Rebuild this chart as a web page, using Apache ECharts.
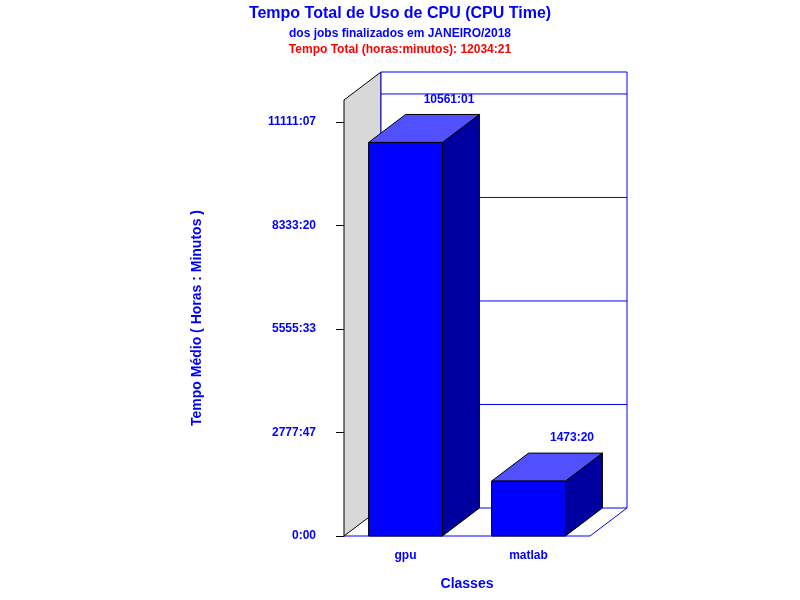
<!DOCTYPE html>
<html><head><meta charset="utf-8">
<script src="https://cdn.jsdelivr.net/npm/echarts@6/dist/echarts.min.js"></script>
<style>html,body{margin:0;padding:0;background:#fff}#c{width:800px;height:600px}</style>
</head><body><div id="c"></div>
<script>
const categories = ['gpu', 'matlab'];
const valueLabels = ['10561:01', '1473:20'];
const tickStepMinutes = 166666.6667; // 2777:47
const axisMaxMinutes = 702000;

function toMin(s){const p=s.split(':');return (+p[0])*60+(+p[1]);}
function fmt(m){m=Math.round(m);const h=Math.floor(m/60),mm=m%60;return h+':'+(mm<10?'0':'')+mm;}
const values = valueLabels.map(toMin);

const DX=37, DY=28;
const FONT='Liberation Sans';
const chart = echarts.init(document.getElementById('c'));
chart.setOption({
  animation:false,
  backgroundColor:'#fff',
  title:[
    {text:'Tempo Total de Uso de CPU (CPU Time)',left:'center',top:1,textStyle:{color:'#0000ff',fontSize:16,fontWeight:'bold',fontFamily:FONT}},
    {text:'dos jobs finalizados em JANEIRO/2018',left:'center',top:23,textStyle:{color:'#0000ff',fontSize:12,fontWeight:'bold',fontFamily:FONT}},
    {text:'Tempo Total (horas:minutos): 12034:21',left:'center',top:39,textStyle:{color:'#ff0000',fontSize:12,fontWeight:'bold',fontFamily:FONT}}
  ],
  grid:{left:344,right:210,top:100,bottom:64},
  xAxis:{type:'category',data:categories,
    axisLine:{show:false},axisTick:{show:false},
    axisLabel:{color:'#0000ff',fontWeight:'bold',fontSize:12,fontFamily:FONT,margin:14},
    name:'Classes',nameLocation:'middle',nameGap:41,
    nameTextStyle:{color:'#0000ff',fontWeight:'bold',fontSize:14,fontFamily:FONT}},
  yAxis:{type:'value',min:0,max:axisMaxMinutes,interval:tickStepMinutes,
    axisLine:{show:true,lineStyle:{color:'#000'}},
    axisTick:{show:true,length:8,lineStyle:{color:'#000'}},
    splitLine:{show:false},
    axisLabel:{color:'#0000ff',fontWeight:'bold',fontSize:12,fontFamily:FONT,margin:28,showMaxLabel:false,
      formatter:v=>fmt(v)},
    name:'Tempo Médio ( Horas : Minutos )',nameLocation:'middle',nameGap:140,
    nameTextStyle:{color:'#0000ff',fontWeight:'bold',fontSize:14,fontFamily:FONT}},
  series:[
    {type:'custom',data:[[0,0]],silent:true,z:1,
     renderItem:function(params,api){
       const cs=params.coordSys;const x0=cs.x,x1=cs.x+cs.width,y0=cs.y,y1=cs.y+cs.height;
       const ch=[
         {type:'polygon',shape:{points:[[x0,y1],[x0,y0],[x0+DX,y0-DY],[x0+DX,y1-DY]]},style:{fill:'#d8d8d8',stroke:'#000',lineWidth:1}},
         {type:'rect',shape:{x:x0+DX,y:y0-DY,width:cs.width,height:cs.height},style:{fill:'#fff',stroke:'#0000ff',lineWidth:1}},
         {type:'polyline',shape:{points:[[x0,y1],[x1,y1],[x1+DX,y1-DY]]},style:{fill:null,stroke:'#0000ff',lineWidth:1}}
       ];
       for(let k=1;k*tickStepMinutes<axisMaxMinutes;k++){
         const y=api.coord([0,k*tickStepMinutes])[1]-DY;
         ch.push({type:'line',shape:{x1:x0+DX,y1:y,x2:x1+DX,y2:y},style:{stroke:'#0000ff',lineWidth:1}});
       }
       return {type:'group',children:ch};
     }},
    {type:'custom',data:categories.map((c,i)=>[i,values[i]]),z:2,
     renderItem:function(params,api){
       const i=api.value(0),v=api.value(1);
       const top=api.coord([i,v]),base=api.coord([i,0]);
       const w=api.size([1,0])[0]*0.6;
       const l=top[0]-w/2,r=top[0]+w/2,t=top[1],b=base[1];
       const st={stroke:'#000',lineWidth:1};
       return {type:'group',children:[
         {type:'polygon',shape:{points:[[r,b],[r,t],[r+DX,t-DY],[r+DX,b-DY]]},style:Object.assign({fill:'#0000a0'},st)},
         {type:'polygon',shape:{points:[[l,t],[l+DX,t-DY],[r+DX,t-DY],[r,t]]},style:Object.assign({fill:'#5050ff'},st)},
         {type:'rect',shape:{x:l,y:t,width:w,height:b-t},style:Object.assign({fill:'#0000ff'},st)},
         {type:'text',style:{text:valueLabels[i],x:top[0]+DX/2+25,y:t-DY-15,align:'center',verticalAlign:'middle',
           fill:'#0000ff',font:'bold 12px "Liberation Sans"'}}
       ]};
     }}
  ]
});
</script></body></html>
